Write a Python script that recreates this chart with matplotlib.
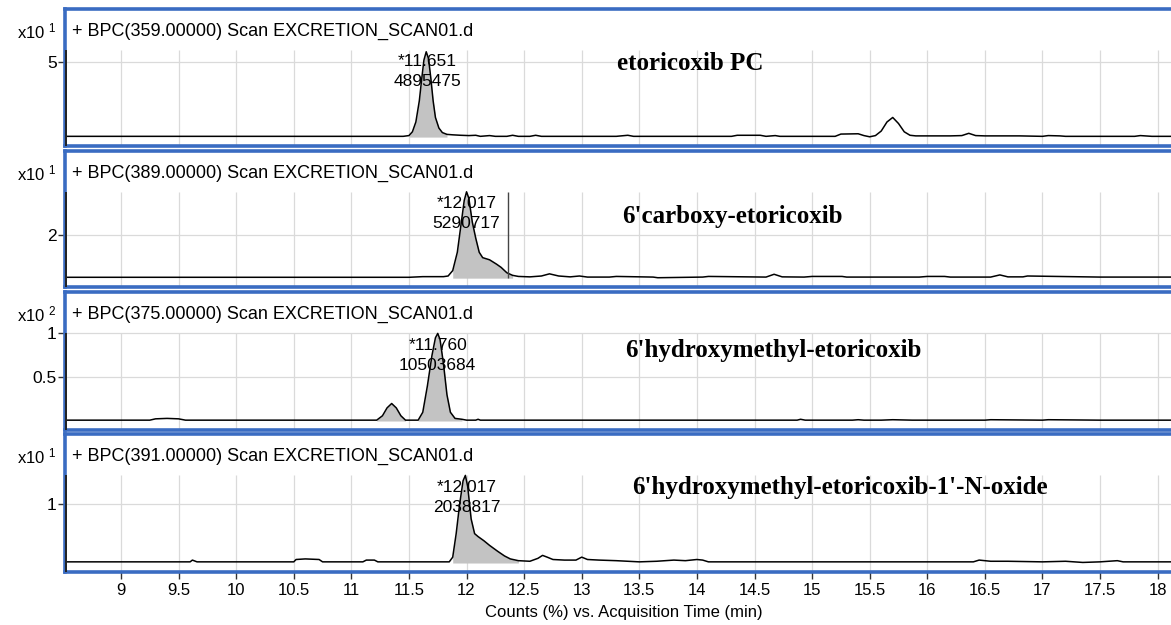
import numpy as np
import matplotlib
matplotlib.use("Agg")
import matplotlib.pyplot as plt

plt.rcParams['mathtext.default'] = 'regular'

# ---------- data (counts, scaled per panel) ----------
time_359 = [8.5, 9.0, 9.5, 10.0, 10.5, 11.0, 11.45, 11.5, 11.53, 11.56, 11.59, 11.61, 11.63, 11.65,
            11.67, 11.69, 11.71, 11.73, 11.76, 11.79, 11.83, 11.88, 11.95, 12.02, 12.08, 12.12, 12.2,
            12.25, 12.35, 12.4, 12.45, 12.55, 12.6, 12.65, 12.8, 13.0, 13.3, 13.4, 13.45, 13.6, 14.0,
            14.3, 14.35, 14.55, 14.6, 14.68, 14.72, 14.8, 15.0, 15.2, 15.25, 15.4, 15.45, 15.5, 15.55,
            15.6, 15.65, 15.7, 15.75, 15.8, 15.85, 15.9, 16.0, 16.2, 16.3, 16.36, 16.42, 16.5, 16.8,
            17.0, 17.05, 17.15, 17.2, 17.5, 17.8, 17.85, 17.95, 18.25]
bpc_359 = [0.05, 0.05, 0.05, 0.05, 0.05, 0.05, 0.05, 0.1, 0.35, 1.0, 2.4, 3.8, 5.1, 5.65,
           5.2, 3.9, 2.4, 1.3, 0.6, 0.3, 0.18, 0.15, 0.12, 0.1, 0.12, 0.05, 0.1,
           0.05, 0.05, 0.12, 0.05, 0.05, 0.12, 0.05, 0.05, 0.05, 0.05, 0.12, 0.05, 0.05, 0.05,
           0.05, 0.12, 0.12, 0.05, 0.1, 0.05, 0.05, 0.05, 0.05, 0.2, 0.22, 0.1, 0.02, 0.1,
           0.4, 1.0, 1.3, 0.9, 0.35, 0.12, 0.08, 0.08, 0.08, 0.1, 0.25, 0.1, 0.08, 0.08,
           0.05, 0.1, 0.08, 0.05, 0.05, 0.05, 0.1, 0.05, 0.05]

time_389 = [8.5, 9.0, 9.5, 10.0, 10.5, 11.0, 11.5, 11.62, 11.8, 11.84, 11.88, 11.92, 11.95, 11.98,
            12.0, 12.02, 12.05, 12.08, 12.11, 12.14, 12.2, 12.26, 12.3, 12.35, 12.4, 12.45, 12.55,
            12.65, 12.72, 12.8, 12.9, 12.98, 13.05, 13.24, 13.3, 13.62, 13.66, 14.05, 14.1, 14.6,
            14.67, 14.74, 14.93, 15.0, 15.26, 15.3, 15.93, 16.0, 16.15, 16.2, 16.55, 16.63, 16.7,
            16.83, 16.87, 17.5, 18.25]
bpc_389 = [0.04, 0.04, 0.04, 0.04, 0.04, 0.04, 0.04, 0.07, 0.07, 0.1, 0.35, 1.2, 2.4, 3.6,
           4.0, 3.7, 2.6, 1.85, 1.2, 0.95, 0.85, 0.65, 0.5, 0.25, 0.13, 0.08, 0.06,
           0.1, 0.2, 0.1, 0.06, 0.1, 0.05, 0.05, 0.08, 0.05, 0.02, 0.05, 0.08, 0.05,
           0.18, 0.06, 0.05, 0.08, 0.08, 0.05, 0.05, 0.08, 0.08, 0.05, 0.05, 0.15, 0.06,
           0.06, 0.1, 0.05, 0.05]

time_375 = [8.5, 9.0, 9.25, 9.3, 9.4, 9.5, 9.56, 10.0, 10.5, 11.0, 11.22, 11.27, 11.31, 11.35,
            11.39, 11.43, 11.47, 11.58, 11.62, 11.66, 11.7, 11.73, 11.75, 11.77, 11.8, 11.83, 11.86,
            11.9, 11.96, 12.0, 12.08, 12.1, 12.12, 12.5, 13.0, 13.5, 14.0, 14.87, 14.9, 14.94, 15.35,
            15.4, 15.45, 15.6, 15.7, 15.87, 16.0, 16.5, 16.55, 17.0, 17.05, 17.5, 18.25]
bpc_375 = [0.01, 0.01, 0.01, 0.025, 0.03, 0.025, 0.01, 0.01, 0.01, 0.01, 0.01, 0.06, 0.15, 0.2,
           0.15, 0.06, 0.01, 0.01, 0.1, 0.4, 0.75, 0.95, 1.0, 0.93, 0.65, 0.3, 0.1,
           0.03, 0.02, 0.01, 0.01, 0.02, 0.01, 0.01, 0.01, 0.01, 0.01, 0.01, 0.02, 0.01, 0.01,
           0.015, 0.01, 0.01, 0.015, 0.01, 0.01, 0.01, 0.015, 0.01, 0.015, 0.01, 0.01]

time_391 = [8.5, 9.0, 9.6, 9.62, 9.66, 10.5, 10.52, 10.6, 10.72, 10.75, 11.0, 11.1, 11.13, 11.2,
            11.23, 11.85, 11.88, 11.91, 11.94, 11.97, 11.99, 12.01, 12.04, 12.07, 12.1, 12.15, 12.2,
            12.27, 12.33, 12.38, 12.45, 12.55, 12.62, 12.66, 12.7, 12.75, 12.85, 12.95, 13.0, 13.05,
            13.15, 13.3, 13.4, 13.5, 13.65, 13.8, 13.9, 14.0, 14.05, 14.1, 15.0, 15.5, 16.4, 16.45,
            16.55, 16.7, 17.0, 17.2, 17.35, 17.5, 17.65, 17.7, 18.25]
bpc_391 = [0.02, 0.02, 0.02, 0.05, 0.02, 0.02, 0.06, 0.07, 0.06, 0.02, 0.02, 0.02, 0.05, 0.05,
           0.02, 0.02, 0.1, 0.5, 1.0, 1.4, 1.49, 1.3, 0.75, 0.5, 0.45, 0.38, 0.3,
           0.2, 0.12, 0.07, 0.04, 0.03, 0.08, 0.13, 0.1, 0.06, 0.05, 0.05, 0.1, 0.06,
           0.05, 0.04, 0.03, 0.02, 0.03, 0.05, 0.04, 0.06, 0.05, 0.02, 0.02, 0.02, 0.02, 0.05,
           0.03, 0.03, 0.02, 0.03, 0.01, 0.02, 0.04, 0.02, 0.02]

headers = ["+ BPC(359.00000) Scan EXCRETION_SCAN01.d",
           "+ BPC(389.00000) Scan EXCRETION_SCAN01.d",
           "+ BPC(375.00000) Scan EXCRETION_SCAN01.d",
           "+ BPC(391.00000) Scan EXCRETION_SCAN01.d"]
compounds = ["etoricoxib PC", "6'carboxy-etoricoxib", "6'hydroxymethyl-etoricoxib",
             "6'hydroxymethyl-etoricoxib-1'-N-oxide"]
exponents = ["1", "1", "2", "1"]
peak_rt = ["11.651", "12.017", "11.760", "12.017"]
peak_area = ["4895475", "5290717", "10503684", "2038817"]
peak_pos = [11.66, 12.0, 11.75, 12.0]
fill_ranges = [[(11.5, 11.86)], [(11.86, 12.44)], [(11.22, 11.48), (11.58, 11.97)], [(11.86, 12.46)]]
ytick_vals = [[5], [2], [0.5, 1], [1]]
ytick_labels = [["5"], ["2"], ["0.5", "1"], ["1"]]
data_tops = [5.76, 4.0, 1.0, 1.49]
x_ticks = [9, 9.5, 10, 10.5, 11, 11.5, 12, 12.5, 13, 13.5, 14, 14.5, 15, 15.5, 16, 16.5, 17, 17.5, 18]
x_tick_labels = ["9", "9.5", "10", "10.5", "11", "11.5", "12", "12.5", "13", "13.5", "14",
                 "14.5", "15", "15.5", "16", "16.5", "17", "17.5", "18"]
marker_389 = 12.36

series = [(time_359, bpc_359), (time_389, bpc_389), (time_375, bpc_375), (time_391, bpc_391)]

# ---------- layout ----------
W, H = 1171, 625
boxes = [(9, 146), (151, 287), (292, 430), (434, 572)]
left_px, right_px = 65, 1183
label_x = [13.31, 13.35, 13.38, 13.44]
label_fracs = [0.6, 0.52, 0.575, 0.61]
sans = ['Liberation Sans', 'DejaVu Sans']
blue = '#3a6cc2'

fig = plt.figure(figsize=(W / 100, H / 100), dpi=100)
xmin, xmax = 8.514, 18.22

for i, (top, bot) in enumerate(boxes):
    ax = fig.add_axes([left_px / W, 1 - bot / H, (right_px - left_px) / W, (bot - top) / H])
    t = np.array(series[i][0])
    y = np.array(series[i][1])
    R = data_tops[i] / 0.635
    ylo = -0.065 * R
    ax.set_xlim(xmin, xmax)
    ax.set_ylim(ylo, ylo + R)

    # grid
    ax.vlines(x_ticks, ylo, data_tops[i], colors='#dadada', lw=0.9, zorder=0)
    ax.hlines(ytick_vals[i], xmin, xmax, colors='#dadada', lw=0.9, zorder=0)
    ax.vlines([xmin + 0.012], ylo, data_tops[i], colors='#222222', lw=1.4, zorder=3)

    # integrated peaks
    for a, b in fill_ranges[i]:
        m = (t >= a) & (t <= b)
        ax.fill_between(t, y, 0, where=m, color='#c3c3c3', lw=0, zorder=1)
    ax.plot(t, y, color='black', lw=1.1, zorder=2)
    if i == 1:
        ax.vlines([marker_389], 0, data_tops[i], colors='#444444', lw=1.0, zorder=2)

    # peak annotation (under the trace)
    xt = ax.get_xaxis_transform()
    ax.text(peak_pos[i], 0.615, "*" + peak_rt[i], transform=xt,
            ha='center', va='center', fontsize=12.5, family=sans, zorder=1.5)
    ax.text(peak_pos[i], 0.47, peak_area[i], transform=xt,
            ha='center', va='center', fontsize=12.5, family=sans, zorder=1.5)

    # headers
    ax.text(0.006, 0.835, headers[i], transform=ax.transAxes, ha='left', va='center',
            fontsize=13, family=sans)
    ax.text(-0.008, 0.835, "x10 $^{" + exponents[i] + "}$", transform=ax.transAxes,
            ha='right', va='center', fontsize=12, family=sans)
    ax.text(label_x[i], label_fracs[i], compounds[i], transform=xt,
            ha='left', va='center', fontsize=18, family='Liberation Serif', fontweight='bold')

    # axes styling
    for s in ['top', 'bottom', 'left']:
        ax.spines[s].set_color(blue)
        ax.spines[s].set_linewidth(2.6)
    ax.spines['right'].set_visible(False)
    ax.set_yticks(ytick_vals[i])
    ax.set_yticklabels(ytick_labels[i], fontsize=12.5, family=sans)
    ax.tick_params(axis='y', direction='out', length=5, width=1, pad=1, color='#333333')
    ax.set_xticks(x_ticks)
    if i == 3:
        ax.set_xticklabels(x_tick_labels, fontsize=12, family=sans)
        ax.tick_params(axis='x', direction='out', length=5, width=1, pad=3, color='#333333')
        ax.set_xlabel("Counts (%) vs. Acquisition Time (min)", fontsize=12, family=sans, labelpad=5)
    else:
        ax.tick_params(axis='x', length=0, labelbottom=False)

fig.savefig("out.png", dpi=100)
